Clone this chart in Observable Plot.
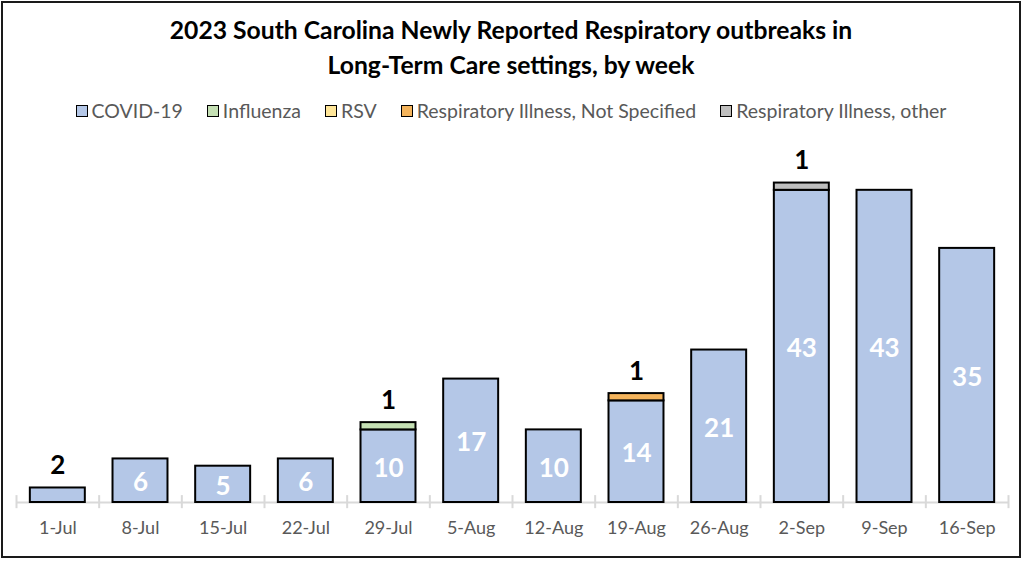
<!DOCTYPE html>
<html>
<head>
<meta charset="utf-8">
<script src="https://cdn.jsdelivr.net/npm/d3@7"></script>
<script src="https://cdn.jsdelivr.net/npm/@observablehq/plot@0.6"></script>
<style>
  html, body { margin: 0; padding: 0; background: #fff; }
  #frame { position: absolute; left: 1px; top: 1px; width: 1016px; height: 553px; border: 2px solid #1a1a1a; background: #fff; font-family: Lato, "Open Sans", sans-serif; }
  #title { position: absolute; left: 0; width: 100%; top: 9px; text-align: center; font-weight: bold; font-size: 24.7px; line-height: 35px; color: #000; }
  #legend { position: absolute; left: 0; width: 100%; top: 96px; display: flex; justify-content: center; font-size: 19.5px; color: #595959; }
  .item { display: flex; align-items: center; margin: 0 12px; }
  .sw { width: 10px; height: 10px; border: 1.6px solid #000; margin-right: 4px; }
  #chart { position: absolute; left: 0; top: 133px; }
</style>
</head>
<body>
<div id="frame">
  <div id="title">2023 South Carolina Newly Reported Respiratory outbreaks in<br>Long-Term Care settings, by week</div>
  <div id="legend"></div>
  <div id="chart"></div>
</div>
<script>
const weeks = ["1-Jul","8-Jul","15-Jul","22-Jul","29-Jul","5-Aug","12-Aug","19-Aug","26-Aug","2-Sep","9-Sep","16-Sep"];
const seriesNames = ["COVID-19","Influenza","RSV","Respiratory Illness, Not Specified","Respiratory Illness, other"];
const seriesColors = ["#b4c7e7","#c5e0b4","#ffe699","#f4b45c","#bfbfbf"];
const covid      = [2,6,5,6,10,17,10,14,21,43,43,35];
const influenza  = [0,0,0,0,1,0,0,0,0,0,0,0];
const rsv        = [0,0,0,0,0,0,0,0,0,0,0,0];
const notSpec    = [0,0,0,0,0,0,0,1,0,0,0,0];
const other      = [0,0,0,0,0,0,0,0,0,1,0,0];
const seriesValues = [covid, influenza, rsv, notSpec, other];

// long table
const data = [];
seriesNames.forEach((s, si) => {
  weeks.forEach((w, wi) => {
    data.push({week: w, series: s, value: seriesValues[si][wi]});
  });
});
const bars = data.filter(d => d.value > 0);
const insideLabels = bars.filter(d => d.series === "COVID-19" && d.value >= 5);
const topLabels = [];
weeks.forEach((w, wi) => {
  const total = seriesValues.reduce((a, arr) => a + arr[wi], 0);
  if (covid[wi] < 5) topLabels.push({week: w, total, text: String(covid[wi])});
  seriesValues.slice(1).forEach(arr => {
    if (arr[wi] > 0) topLabels.push({week: w, total, text: String(arr[wi])});
  });
});

// legend
const legend = document.getElementById("legend");
seriesNames.forEach((s, i) => {
  const it = document.createElement("div");
  it.className = "item";
  it.innerHTML = `<span class="sw" style="background:${seriesColors[i]}"></span><span>${s}</span>`;
  legend.appendChild(it);
});

const W = 1016, H = 420, ML = 13, MR = 11;
const step = (W - ML - MR) / weeks.length;

const plot = Plot.plot({
  width: W,
  height: H,
  marginLeft: ML,
  marginRight: MR,
  marginTop: 3,
  marginBottom: 54,
  style: {fontFamily: "Lato, 'Open Sans', sans-serif", background: "transparent"},
  x: {domain: weeks, paddingInner: 0.335, paddingOuter: 0.1675, round: false, axis: null, label: null},
  y: {domain: [0, 50], axis: null},
  color: {domain: seriesNames, range: seriesColors},
  marks: [
    Plot.ruleY([0], {stroke: "#d9d9d9", strokeWidth: 2}),
    Plot.ruleX(weeks, {x: d => d, dx: -step / 2, y1: -0.85, y2: 0.95, stroke: "#d9d9d9", strokeWidth: 2}),
    Plot.ruleX(weeks.slice(-1), {x: d => d, dx: step / 2, y1: -0.85, y2: 0.95, stroke: "#d9d9d9", strokeWidth: 2}),
    Plot.barY(bars, {x: "week", y: "value", fill: "series", order: seriesNames, stroke: "#000", strokeWidth: 2}),
    Plot.text(insideLabels, Plot.stackY({x: "week", y: "value", text: d => String(d.value), dy: 2, fill: "#fff", fontSize: 26, fontWeight: "bold"})),
    Plot.text(topLabels, {x: "week", y: "total", text: "text", dy: -22, fill: "#000", fontSize: 26, fontWeight: "bold"}),
    Plot.axisX({domain: weeks, tickSize: 0, tickPadding: 19, fontSize: 18, fill: "#595959", anchor: "bottom", label: null})
  ]
});
document.getElementById("chart").appendChild(plot);
</script>
</body>
</html>
